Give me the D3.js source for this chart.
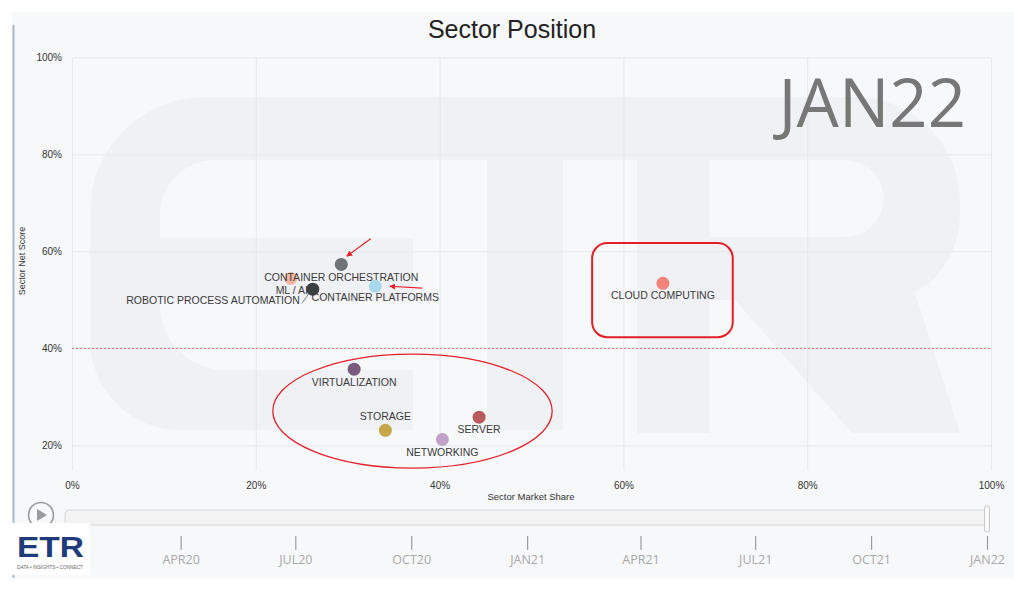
<!DOCTYPE html>
<html>
<head>
<meta charset="utf-8">
<script src="https://cdn.jsdelivr.net/npm/d3@7"></script>
<style>
body { margin: 0; background: #fff; }
svg { display: block; }
</style>
</head>
<body>
<svg id="chart" width="1014" height="589"></svg>
<script>
const sectors = ["Robotic Process Automation", "Container Orchestration", "ML / AI", "Container Platforms",
                 "Cloud Computing", "Virtualization", "Storage", "Server", "Networking"];
const marketShare = [23.8, 29.3, 26.2, 33.0, 64.3, 30.7, 34.1, 44.3, 40.3];
const netScore    = [54.4, 57.3, 52.2, 52.8, 53.4, 35.7, 23.1, 25.8, 21.2];
const sectorColors = ["#f3b6a0", "#6f7478", "#3b4043", "#a8d8ea", "#f0837a", "#7a5b7e", "#c5a648", "#b95a5c", "#c3a2c9"];

const xTicks = [0, 20, 40, 60, 80, 100];
const yTicks = [20, 40, 60, 80, 100];
const netScoreLine = 40;
const frameLabel = "JAN22";
const timelineStart = new Date(2020, 0, 1);
const timelineEnd = new Date(2022, 0, 1);

const svg = d3.select("#chart");

// scales
const x = d3.scaleLinear().domain([0, 100]).range([72, 991]);
const y = d3.scaleLinear().domain([15, 100]).range([469.6, 57.3]);
const t = d3.scaleTime().domain([timelineStart, timelineEnd]).range([66, 987]);

// panel background
svg.append("rect").attr("x", 12).attr("y", 12).attr("width", 1002).attr("height", 566).attr("fill", "#f7f8fa");
svg.append("line").attr("x1", 13.5).attr("x2", 13.5).attr("y1", 25).attr("y2", 578)
  .attr("stroke", "#a9b9c9").attr("stroke-width", 2);

// ETR watermark
const wm = svg.append("g").attr("fill", "#f0f1f4");
wm.append("path").attr("d",
  "M413,97 H205 A115,115 0 0 0 90,212 V340 A90,90 0 0 0 180,430 H413 V370 H225 A65,65 0 0 1 160,305 V300 H413 V238 H160 V215 A55,55 0 0 1 215,160 H413 Z");
wm.append("rect").attr("x", 405).attr("y", 97).attr("width", 240).attr("height", 63);
wm.append("rect").attr("x", 487).attr("y", 160).attr("width", 76).attr("height", 270);
wm.append("path").attr("fill-rule", "evenodd").attr("d",
  "M637,97 H855 A105,105 0 0 1 960,202 V215 A90,90 0 0 1 915,293 L960,433 H852 L735,300 H710 V433 H637 Z " +
  "M710,160 H845 A38.5,38.5 0 0 1 845,237 H710 Z");

// axes with grid lines
const yAxis = svg.append("g").attr("transform", `translate(${x(0)},0)`)
  .call(d3.axisLeft(y).tickValues(yTicks).tickSize(-(x(100) - x(0))).tickPadding(10).tickFormat(d => d + "%"));
const xAxis = svg.append("g").attr("transform", `translate(0,${y(15)})`)
  .call(d3.axisBottom(x).tickValues(xTicks).tickSize(-(y(15) - y(100))).tickPadding(12.5).tickFormat(d => d + "%"));
[xAxis, yAxis].forEach(a => {
  a.select(".domain").remove();
  a.selectAll(".tick line").attr("stroke", "#e6e8eb");
  a.selectAll(".tick text").attr("fill", "#333").style("font", "10px 'Liberation Sans', Arial, sans-serif");
});

svg.append("text").attr("x", 531).attr("y", 500).attr("text-anchor", "middle")
  .attr("fill", "#333").style("font", "9.5px 'Liberation Sans', Arial, sans-serif").text("Sector Market Share");
svg.append("text").attr("transform", "translate(25,261) rotate(-90)").attr("text-anchor", "middle")
  .attr("fill", "#333").style("font", "9px 'Liberation Sans', Arial, sans-serif").text("Sector Net Score");

// 40% reference line
svg.append("line").attr("x1", x(0)).attr("x2", x(100)).attr("y1", y(netScoreLine)).attr("y2", y(netScoreLine))
  .attr("stroke", "#e86a6a").attr("stroke-width", 1).attr("stroke-dasharray", "2,2");

// frame label
svg.append("text").attr("x", 966).attr("y", 127).attr("text-anchor", "end")
  .attr("fill", "#777").style("font", "67px 'Open Sans', sans-serif").text(frameLabel);

// label placement per sector (pixels from the point)
const labelPlace = {
  "Robotic Process Automation": [9, 26, "end"],
  "Container Orchestration": [0, 17, "middle"],
  "ML / AI": [-21, 5, "middle"],
  "Container Platforms": [0, 15, "middle"],
  "Cloud Computing": [0, 16, "middle"],
  "Virtualization": [0, 17, "middle"],
  "Storage": [0, -10, "middle"],
  "Server": [0, 16, "middle"],
  "Networking": [0, 16, "middle"]
};

const points = sectors.map((name, i) => ({ name, share: marketShare[i], score: netScore[i], color: sectorColors[i] }));

// leader from RPA label towards the ML / AI dot
const rpa = points[0], ml = points[2];
svg.append("line")
  .attr("x1", x(rpa.share) + labelPlace[rpa.name][0] + 2).attr("y1", y(rpa.score) + labelPlace[rpa.name][1] - 1)
  .attr("x2", x(ml.share) - 3).attr("y2", y(ml.score) + 3)
  .attr("stroke", "#666").attr("stroke-width", 0.8);

const g = svg.selectAll("g.sector").data(points).join("g").attr("class", "sector");
g.append("text")
  .attr("x", d => x(d.share) + labelPlace[d.name][0])
  .attr("y", d => y(d.score) + labelPlace[d.name][1])
  .attr("text-anchor", d => labelPlace[d.name][2])
  .attr("fill", "#3a3a3a")
  .style("font", "10.5px 'Liberation Sans', Arial, sans-serif")
  .text(d => d.name.toUpperCase());
g.append("circle")
  .attr("cx", d => x(d.share)).attr("cy", d => y(d.score)).attr("r", 6.5)
  .attr("fill", d => d.color);

// red hand annotations (data units)
const red = "#e3202a";
svg.append("defs").append("marker").attr("id", "arrow").attr("viewBox", "0 0 10 10")
  .attr("refX", 9).attr("refY", 5).attr("markerWidth", 5).attr("markerHeight", 5).attr("orient", "auto")
  .append("path").attr("d", "M0,0 L10,5 L0,10 Z").attr("fill", red);
const arrows = [[32.5, 62.6, 29.9, 59.0], [38.1, 52.4, 34.6, 52.8]];
svg.selectAll("line.arrow").data(arrows).join("line").attr("class", "arrow")
  .attr("x1", d => x(d[0])).attr("y1", d => y(d[1])).attr("x2", d => x(d[2])).attr("y2", d => y(d[3]))
  .attr("stroke", red).attr("stroke-width", 1.2).attr("marker-end", "url(#arrow)");
svg.append("rect").attr("x", x(56.6)).attr("y", y(61.7)).attr("width", x(71.9) - x(56.6)).attr("height", y(42.3) - y(61.7))
  .attr("rx", 15).attr("fill", "none").attr("stroke", red).attr("stroke-width", 2);
svg.append("ellipse").attr("cx", x(37.05)).attr("cy", y(27.07)).attr("rx", x(15.2) - x(0)).attr("ry", y(15) - y(26.75))
  .attr("fill", "none").attr("stroke", red).attr("stroke-width", 1.3);

// title
svg.append("text").attr("x", 512).attr("y", 38).attr("text-anchor", "middle")
  .attr("fill", "#222").style("font", "25px 'Liberation Sans', Arial, sans-serif").text("Sector Position");

// timeline
svg.append("circle").attr("cx", 41).attr("cy", 515).attr("r", 12.5)
  .attr("fill", "none").attr("stroke", "#9a9a9a").attr("stroke-width", 1.6);
svg.append("path").attr("d", "M37,509 L37,521 L47,515 Z").attr("fill", "#9a9a9a");
svg.append("rect").attr("x", t(timelineStart) - 1).attr("y", 510).attr("width", t(timelineEnd) - t(timelineStart) + 2)
  .attr("height", 15).attr("rx", 4).attr("fill", "#f3f3f4").attr("stroke", "#d6d6d8");
svg.append("rect").attr("x", t(timelineEnd) - 2.5).attr("y", 506).attr("width", 5).attr("height", 26).attr("rx", 2)
  .attr("fill", "#fafafa").attr("stroke", "#c8c8c8");
const tAxis = svg.append("g").attr("transform", "translate(0,536)")
  .call(d3.axisBottom(t).ticks(d3.timeMonth.every(3)).tickSize(14).tickPadding(5)
    .tickFormat(d => +d === +timelineStart ? "" : d3.timeFormat("%b%y")(d).toUpperCase()));
tAxis.select(".domain").remove();
tAxis.selectAll(".tick line").attr("stroke", "#9c9c9c").attr("stroke-width", 1.2);
tAxis.selectAll(".tick text").attr("fill", "#a8a8a8").style("font", "12.5px 'Open Sans', sans-serif");

// logo box
svg.append("rect").attr("x", 0).attr("y", 523).attr("width", 90).attr("height", 52).attr("fill", "#fff");
svg.append("text").attr("x", 17).attr("y", 557).attr("textLength", 67).attr("lengthAdjust", "spacingAndGlyphs")
  .attr("fill", "#1f3b7a").style("font", "bold 30px 'Liberation Sans', Arial, sans-serif").text("ETR");
svg.append("text").attr("x", 17).attr("y", 569).attr("textLength", 66).attr("lengthAdjust", "spacingAndGlyphs")
  .attr("fill", "#666").style("font", "4.5px 'Liberation Sans', Arial, sans-serif").text("DATA • INSIGHTS • CONNECT");
</script>
</body>
</html>
